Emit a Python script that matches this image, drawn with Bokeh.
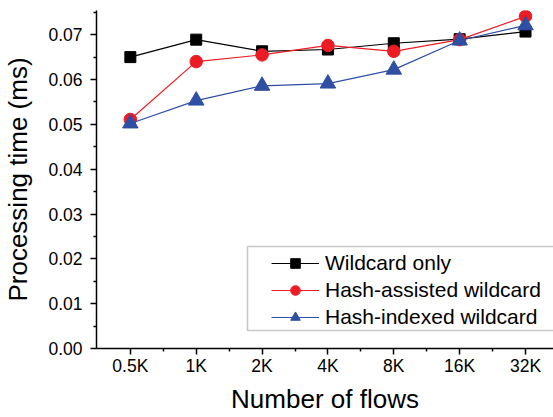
from bokeh.plotting import figure
from bokeh.models import FixedTicker, Legend, LegendItem, BoxAnnotation, Range1d
from bokeh.embed import file_html
from bokeh.resources import INLINE

# ---- data ----
categories = ["0.5K", "1K", "2K", "4K", "8K", "16K", "32K"]
wildcard_only = [0.0650, 0.0689, 0.0663, 0.0667, 0.0681, 0.0690, 0.0707]
hash_assisted = [0.0511, 0.0640, 0.0655, 0.0676, 0.0663, 0.0689, 0.0741]
hash_indexed = [0.0502, 0.0553, 0.0586, 0.0591, 0.0622, 0.0687, 0.0721]
y_ticks = [0.00, 0.01, 0.02, 0.03, 0.04, 0.05, 0.06, 0.07]
y_minor = [0.005, 0.015, 0.025, 0.035, 0.045, 0.055, 0.065, 0.075]
y_tick_labels = ["0.00", "0.01", "0.02", "0.03", "0.04", "0.05", "0.06", "0.07"]

FONT = "Liberation Sans"
xs = list(range(len(categories)))

p = figure(width=553, height=417, output_backend="svg", toolbar_location=None,
           x_range=Range1d(-0.514, 6.425), y_range=Range1d(0, 0.0754),
           min_border_left=94, min_border_right=0, min_border_top=10,
           min_border_bottom=69)
p.outline_line_color = None
p.xgrid.visible = False
p.ygrid.visible = False
p.background_fill_color = "white"
p.border_fill_color = "white"

# axes
for ax in (p.xaxis[0], p.yaxis[0]):
    ax.axis_line_width = 1.5
    ax.axis_line_color = "black"
    ax.major_tick_line_width = 1.5
    ax.minor_tick_line_width = 1.5
    ax.major_tick_in = 0
    ax.major_tick_out = 6
    ax.minor_tick_in = 0
    ax.minor_tick_out = 3
    ax.major_label_text_font = FONT
    ax.major_label_text_font_size = "17.5px"
    ax.major_label_text_color = "black"
    ax.axis_label_text_font = FONT
    ax.axis_label_text_font_size = "26px"
    ax.axis_label_text_font_style = "normal"
    ax.axis_label_text_color = "black"

p.xaxis.ticker = FixedTicker(ticks=xs, minor_ticks=[i + 0.5 for i in xs])
p.xaxis.major_label_overrides = {i: c for i, c in zip(xs, categories)}
p.xaxis.axis_label = "Number of flows"
p.xaxis.major_label_standoff = 1
p.xaxis.axis_label_standoff = 5

p.yaxis.ticker = FixedTicker(ticks=y_ticks, minor_ticks=y_minor)
p.yaxis.major_label_overrides = {t: l for t, l in zip(y_ticks, y_tick_labels)}
p.yaxis.axis_label = "Processing time (ms)"
p.yaxis.major_label_standoff = 8
p.yaxis.axis_label_standoff = 12

BLACK = "black"
RED = "#ED1C24"
BLUE = "#2E4FA3"

l1 = p.line(xs, wildcard_only, line_color=BLACK, line_width=1.2)
m1 = p.scatter(xs, wildcard_only, marker="square", size=11, fill_color=BLACK, line_color=BLACK)
l2 = p.line(xs, hash_assisted, line_color=RED, line_width=1.2)
m2 = p.scatter(xs, hash_assisted, marker="circle", size=12.5, fill_color=RED, line_color=RED)
l3 = p.line(xs, hash_indexed, line_color=BLUE, line_width=1.2)
m3 = p.scatter(xs, hash_indexed, marker="triangle", size=15.5, fill_color=BLUE, line_color=BLUE)

box = BoxAnnotation(left=247, right=570, top=246, bottom=330,
                    left_units="canvas", right_units="canvas",
                    top_units="canvas", bottom_units="canvas",
                    fill_alpha=0, line_color="#444444", line_width=1.5)
p.add_layout(box)

legend = Legend(items=[LegendItem(label="Wildcard only", renderers=[l1, m1]),
                       LegendItem(label="Hash-assisted wildcard", renderers=[l2, m2]),
                       LegendItem(label="Hash-indexed wildcard", renderers=[l3, m3])],
                location=(175, 19), padding=0, margin=0, spacing=3,
                glyph_width=48, glyph_height=24, label_height=24, label_standoff=6,
                label_text_font=FONT, label_text_font_size="21px",
                label_text_color="black",
                border_line_alpha=0, background_fill_alpha=0)
p.add_layout(legend)

open("out.html", "w").write(file_html(p, INLINE))
